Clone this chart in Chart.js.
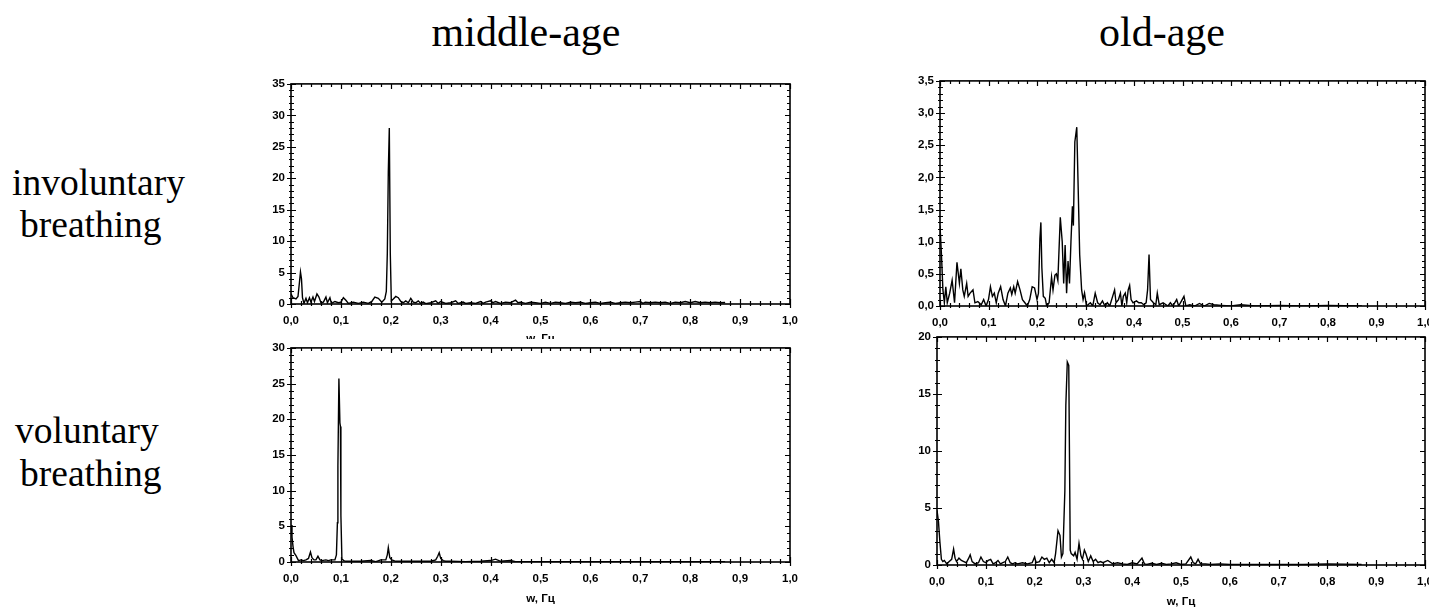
<!DOCTYPE html>
<html>
<head>
<meta charset="utf-8">
<script src="https://cdn.jsdelivr.net/npm/chart.js@4.4.1/dist/chart.umd.min.js"></script>
<style>
  html, body { margin: 0; padding: 0; background: #fff; }
  body { width: 1429px; height: 608px; overflow: hidden; position: relative; }
  .lbl { position: absolute; font-family: "Liberation Serif", "Times New Roman", serif; line-height: 1; color: #000; white-space: nowrap; }
  .head { font-size: 42px; transform: translateX(-50%); }
  .row { font-size: 37.5px; }
  .panel { position: absolute; }
  .panel canvas { display: block; }
</style>
</head>
<body>
<div class="lbl head" style="left:526px; top:11px;">middle-age</div>
<div class="lbl head" style="left:1162px; top:11px;">old-age</div>
<div class="lbl row" style="left:12px; top:164px;">involuntary</div>
<div class="lbl row" style="left:20px; top:206px;">breathing</div>
<div class="lbl row" style="left:15px; top:412px;">voluntary</div>
<div class="lbl row" style="left:20px; top:455px;">breathing</div>

<div class="panel" id="p-tl"><canvas id="c-tl"></canvas></div>
<div class="panel" id="p-tr"><canvas id="c-tr"></canvas></div>
<div class="panel" id="p-bl"><canvas id="c-bl"></canvas></div>
<div class="panel" id="p-br"><canvas id="c-br"></canvas></div>

<script>
// Frequency axis shared by all four spectra (Hz)
const freqTicks = [0, 0.1, 0.2, 0.3, 0.4, 0.5, 0.6, 0.7, 0.8, 0.9, 1.0];
const axisTitle = 'w, Гц';

// middle-age, involuntary breathing
const midInvFreq = [
  0.000, 0.004, 0.010, 0.014, 0.017, 0.019, 0.021, 0.023, 0.026, 0.030,
  0.033, 0.037, 0.040, 0.044, 0.047, 0.052, 0.056, 0.060, 0.065, 0.070,
  0.073, 0.078, 0.081, 0.088, 0.095, 0.100, 0.105, 0.110, 0.115, 0.125,
  0.135, 0.145, 0.155, 0.162, 0.168, 0.175, 0.182, 0.188, 0.191, 0.193,
  0.195, 0.197, 0.199, 0.201, 0.205, 0.210, 0.215, 0.220, 0.225, 0.230,
  0.235, 0.240, 0.245, 0.250, 0.255, 0.260, 0.265, 0.270, 0.280, 0.290,
  0.295, 0.300, 0.310, 0.320, 0.330, 0.335, 0.345, 0.350, 0.360, 0.370,
  0.380, 0.385, 0.390, 0.400, 0.405, 0.410, 0.420, 0.430, 0.440, 0.450,
  0.455, 0.460, 0.470, 0.480, 0.490, 0.500, 0.510, 0.520, 0.530, 0.540,
  0.550, 0.560, 0.570, 0.580, 0.590, 0.600, 0.610, 0.620, 0.630, 0.640,
  0.650, 0.660, 0.670, 0.680, 0.690, 0.700, 0.705, 0.710, 0.720, 0.730,
  0.740, 0.750, 0.760, 0.770, 0.780, 0.790, 0.800, 0.810, 0.820, 0.830,
  0.840, 0.850, 0.860, 0.870
];
const midInvPower = [
  1.6, 1.0, 0.8, 1.2, 3.5, 5.1, 4.0, 1.0, 0.1, 0.9,
  0.2, 1.0, 0.3, 1.1, 0.4, 1.6, 1.1, 0.2, 0.3, 1.1,
  0.2, 1.0, 0.1, 0.4, 0.2, 0.3, 1.0, 0.6, 0.1, 0.3,
  0.1, 0.3, 0.1, 0.4, 1.1, 0.9, 0.3, 0.8, 2.0, 8.0,
  21.0, 28.0, 8.0, 0.5, 0.8, 1.2, 1.0, 0.4, 0.2, 0.5,
  0.2, 0.9, 0.3, 0.2, 0.5, 0.1, 0.3, 0.05, 0.2, 0.5,
  0.1, 0.4, 0.1, 0.2, 0.5, 0.1, 0.3, 0.1, 0.2, 0.1,
  0.4, 0.1, 0.3, 0.5, 0.2, 0.4, 0.1, 0.3, 0.2, 0.6,
  0.2, 0.3, 0.1, 0.3, 0.2, 0.1, 0.3, 0.1, 0.3, 0.2,
  0.1, 0.3, 0.2, 0.3, 0.1, 0.2, 0.3, 0.1, 0.2, 0.3,
  0.1, 0.2, 0.3, 0.2, 0.3, 0.4, 0.1, 0.3, 0.2, 0.3,
  0.2, 0.3, 0.1, 0.3, 0.2, 0.4, 0.2, 0.4, 0.2, 0.3,
  0.2, 0.3, 0.2, 0.25
];

// old-age, involuntary breathing
const oldInvFreq = [
  0.000, 0.003, 0.006, 0.009, 0.012, 0.015, 0.020, 0.025, 0.030, 0.035,
  0.040, 0.043, 0.047, 0.050, 0.055, 0.058, 0.062, 0.068, 0.072, 0.078,
  0.085, 0.090, 0.095, 0.100, 0.104, 0.108, 0.112, 0.116, 0.120, 0.125,
  0.130, 0.135, 0.140, 0.145, 0.148, 0.152, 0.155, 0.160, 0.165, 0.170,
  0.175, 0.180, 0.185, 0.190, 0.195, 0.200, 0.203, 0.206, 0.208, 0.210,
  0.213, 0.217, 0.220, 0.225, 0.230, 0.233, 0.237, 0.240, 0.243, 0.248,
  0.252, 0.255, 0.258, 0.261, 0.264, 0.267, 0.270, 0.273, 0.275, 0.278,
  0.282, 0.285, 0.288, 0.292, 0.295, 0.298, 0.302, 0.310, 0.315, 0.320,
  0.325, 0.330, 0.335, 0.340, 0.345, 0.350, 0.360, 0.363, 0.368, 0.372,
  0.375, 0.378, 0.382, 0.385, 0.388, 0.391, 0.394, 0.398, 0.405, 0.410,
  0.415, 0.420, 0.425, 0.428, 0.431, 0.434, 0.440, 0.445, 0.448, 0.452,
  0.460, 0.470, 0.475, 0.480, 0.488, 0.492, 0.498, 0.503, 0.507, 0.515,
  0.525, 0.535, 0.545, 0.555, 0.565, 0.580, 0.600, 0.620, 0.650, 0.700,
  0.750, 0.800, 0.870
];
const oldInvPower = [
  1.25, 0.80, 0.25, 0.05, 0.30, 0.05, 0.20, 0.40, 0.05, 0.68,
  0.35, 0.58, 0.25, 0.15, 0.35, 0.15, 0.20, 0.25, 0.05, 0.07,
  0.02, 0.10, 0.00, 0.10, 0.30, 0.15, 0.20, 0.05, 0.20, 0.30,
  0.10, 0.00, 0.20, 0.28, 0.18, 0.30, 0.20, 0.38, 0.25, 0.10,
  0.05, 0.00, 0.10, 0.30, 0.28, 0.10, 0.20, 1.05, 1.30, 0.60,
  0.15, 0.12, 0.00, 0.05, 0.45, 0.25, 0.48, 0.50, 0.40, 1.38,
  1.00, 0.35, 0.95, 0.20, 0.70, 0.35, 1.00, 1.55, 1.25, 2.55,
  2.78, 1.80, 0.80, 0.25, 0.10, 0.20, 0.00, 0.05, 0.00, 0.20,
  0.05, 0.02, 0.08, 0.00, 0.05, 0.00, 0.25, 0.05, 0.10, 0.20,
  0.00, 0.15, 0.20, 0.05, 0.25, 0.32, 0.10, 0.05, 0.08, 0.05,
  0.05, 0.02, 0.05, 0.25, 0.80, 0.10, 0.05, 0.02, 0.20, 0.02,
  0.05, 0.00, 0.05, 0.00, 0.10, 0.00, 0.08, 0.15, 0.00, 0.02,
  0.00, 0.04, 0.00, 0.04, 0.02, 0.01, 0.00, 0.02, 0.00, 0.01,
  0.00, 0.01, 0.00
];

// middle-age, voluntary breathing
const midVolFreq = [
  0.000, 0.002, 0.004, 0.006, 0.010, 0.015, 0.020, 0.025, 0.030, 0.035,
  0.039, 0.042, 0.046, 0.050, 0.054, 0.058, 0.062, 0.070, 0.075, 0.080,
  0.088, 0.091, 0.093, 0.094, 0.096, 0.098, 0.099, 0.100, 0.102, 0.106,
  0.110, 0.120, 0.140, 0.160, 0.170, 0.180, 0.190, 0.193, 0.195, 0.198,
  0.202, 0.210, 0.240, 0.260, 0.280, 0.290, 0.294, 0.297, 0.300, 0.305,
  0.310, 0.320, 0.350, 0.380, 0.400, 0.410, 0.420, 0.440, 0.450, 0.500,
  0.600, 0.700, 0.800, 0.870
];
const midVolPower = [
  5.2, 3.5, 2.2, 1.3, 0.9, 0.2, 0.3, 0.2, 0.3, 0.5,
  1.4, 0.6, 0.3, 0.3, 0.8, 0.3, 0.2, 0.3, 0.2, 0.3,
  0.3, 1.0, 5.5, 13.5, 25.7, 19.5, 19.0, 6.5, 0.4, 0.2,
  0.1, 0.1, 0.1, 0.2, 0.05, 0.3, 0.3, 1.0, 2.0, 0.6,
  0.3, 0.1, 0.1, 0.1, 0.1, 0.3, 0.8, 1.3, 0.5, 0.2,
  0.1, 0.1, 0.05, 0.1, 0.2, 0.4, 0.1, 0.2, 0.05, 0.05,
  0.05, 0.05, 0.05, 0.05
];

// old-age, voluntary breathing
const oldVolFreq = [
  0.000, 0.003, 0.006, 0.009, 0.012, 0.015, 0.020, 0.025, 0.030, 0.034,
  0.037, 0.040, 0.045, 0.050, 0.055, 0.060, 0.065, 0.068, 0.072, 0.078,
  0.085, 0.090, 0.095, 0.100, 0.105, 0.110, 0.115, 0.120, 0.125, 0.130,
  0.135, 0.140, 0.145, 0.150, 0.155, 0.160, 0.165, 0.175, 0.185, 0.195,
  0.200, 0.203, 0.210, 0.215, 0.220, 0.225, 0.230, 0.235, 0.240, 0.243,
  0.248, 0.252, 0.255, 0.258, 0.262, 0.264, 0.267, 0.270, 0.273, 0.275,
  0.280, 0.283, 0.287, 0.291, 0.295, 0.298, 0.302, 0.305, 0.310, 0.315,
  0.320, 0.325, 0.330, 0.335, 0.340, 0.350, 0.360, 0.370, 0.380, 0.390,
  0.400, 0.410, 0.420, 0.425, 0.430, 0.440, 0.450, 0.460, 0.470, 0.480,
  0.490, 0.500, 0.510, 0.520, 0.525, 0.530, 0.535, 0.540, 0.550, 0.560,
  0.580, 0.600, 0.650, 0.700, 0.750, 0.800, 0.870
];
const oldVolPower = [
  4.8, 3.8, 2.0, 0.5, 0.3, 0.4, 0.1, 0.3, 0.5, 1.4,
  0.6, 0.3, 0.6, 0.4, 0.3, 0.2, 0.6, 0.9, 0.3, 0.1,
  0.2, 0.7, 0.3, 0.2, 0.4, 0.5, 0.1, 0.2, 0.4, 0.1,
  0.2, 0.3, 0.7, 0.2, 0.1, 0.2, 0.1, 0.2, 0.1, 0.2,
  0.7, 0.2, 0.3, 0.7, 0.5, 0.6, 0.2, 0.5, 0.2, 1.0,
  3.0, 2.6, 0.7, 1.0, 6.5, 14.0, 17.8, 17.5, 1.3, 1.0,
  0.8, 1.1, 0.5, 1.9, 0.8, 0.5, 1.3, 1.0, 0.3, 0.8,
  0.3, 0.5, 0.2, 0.3, 0.2, 0.4, 0.1, 0.2, 0.1, 0.05,
  0.2, 0.1, 0.6, 0.1, 0.05, 0.15, 0.05, 0.15, 0.05, 0.1,
  0.2, 0.05, 0.1, 0.7, 0.2, 0.1, 0.5, 0.1, 0.1, 0.05,
  0.1, 0.05, 0.05, 0.05, 0.05, 0.1, 0.05
];

// Power axis ranges
const midInvRange = [0, 35];
const oldInvRange = [0, 3.5];
const midVolRange = [0, 30];
const oldVolRange = [0, 20];

const fmtComma = (digits) => (v) => Number(v).toFixed(digits).replace('.', ',');

// Box frame with inward/crossing tick marks, placed through the chart's scales
const frameTicks = {
  id: 'frameTicks',
  afterDraw(chart, args, o) {
    const { ctx, chartArea: a, scales: { x, y } } = chart;
    ctx.save();
    ctx.strokeStyle = '#000';
    ctx.lineCap = 'butt';
    ctx.lineWidth = 1.2;
    ctx.beginPath();
    const nx = Math.round((x.max - x.min) / o.xMinor);
    for (let i = 0; i <= nx; i++) {
      const px = Math.round(x.getPixelForValue(x.min + i * o.xMinor)) + 0.5;
      const major = i % o.xEvery === 0;
      const out = major ? 4 : 2, inn = major ? 5 : 3;
      ctx.moveTo(px, a.bottom - inn); ctx.lineTo(px, a.bottom + out);
      ctx.moveTo(px, a.top); ctx.lineTo(px, a.top + inn);
    }
    const ny = Math.round((y.max - y.min) / o.yMinor);
    for (let j = 0; j <= ny; j++) {
      const py = Math.round(y.getPixelForValue(y.min + j * o.yMinor)) + 0.5;
      const major = j % o.yEvery === 0;
      const out = major ? 4 : 2, inn = major ? 5 : 3;
      ctx.moveTo(a.left - out, py); ctx.lineTo(a.left + inn, py);
      ctx.moveTo(a.right, py); ctx.lineTo(a.right - inn, py);
    }
    ctx.stroke();
    ctx.lineWidth = 1.6;
    ctx.strokeRect(a.left, a.top, a.right - a.left, a.bottom - a.top);
    ctx.restore();
  }
};

const tickFont = { family: '"Liberation Sans", Arial, sans-serif', size: 11.5, weight: 'bold' };

function drawPanel(id, freq, power, range, yStep, yDigits, yMinor, box, clip, titleY) {
  const padT = 8, padR = 16, yW = 44, xH = 44;
  const w = box.right - box.left + yW + padR;
  const h = box.bottom - box.top + padT + xH;
  const holder = document.getElementById('p-' + id);
  holder.style.left = (box.left - yW) + 'px';
  holder.style.top = (box.top - padT) + 'px';
  holder.style.width = w + 'px';
  holder.style.height = h + 'px';
  holder.style.clipPath = 'inset(' + clip.top + 'px 0px ' + clip.bottom + 'px 0px)';
  const canvas = document.getElementById('c-' + id);
  canvas.width = w; canvas.height = h;
  canvas.style.width = w + 'px'; canvas.style.height = h + 'px';

  const showTitle = titleY !== null;
  const lineH = 13.8;
  const titlePadBottom = showTitle ? Math.max(0, (box.bottom + xH) - lineH / 2 - titleY) : 0;

  new Chart(canvas, {
    type: 'line',
    data: {
      datasets: [{
        data: freq.map((f, i) => ({ x: f, y: power[i] })),
        borderColor: '#000',
        borderWidth: 1.4,
        pointRadius: 0,
        tension: 0,
        fill: false
      }]
    },
    options: {
      responsive: false,
      devicePixelRatio: 1,
      animation: false,
      events: [],
      layout: { padding: { top: padT, right: padR, left: 0, bottom: 0 } },
      plugins: { legend: { display: false }, tooltip: { enabled: false }, frameTicks: { xMinor: 0.02, xEvery: 5, yMinor: yMinor, yEvery: Math.round(yStep / yMinor) } },
      scales: {
        x: {
          type: 'linear',
          min: freqTicks[0], max: freqTicks[freqTicks.length - 1],
          afterBuildTicks: (s) => { s.ticks = freqTicks.map(v => ({ value: v })); },
          afterFit: (s) => { s.height = xH; },
          grid: { display: false, drawTicks: false },
          border: { display: false },
          ticks: { color: '#000', font: tickFont, padding: 10, maxRotation: 0, autoSkip: false, callback: fmtComma(1) },
          title: { display: showTitle, text: axisTitle, color: '#000', font: tickFont, padding: { top: 0, bottom: titlePadBottom } }
        },
        y: {
          type: 'linear',
          min: range[0], max: range[1],
          afterFit: (s) => { s.width = yW; },
          grid: { display: false, drawTicks: false },
          border: { display: false },
          ticks: { color: '#000', font: tickFont, padding: 6, stepSize: yStep, callback: fmtComma(yDigits) }
        }
      }
    },
    plugins: [frameTicks]
  });
}

drawPanel('tl', midInvFreq, midInvPower, midInvRange, 5, 0, 1,
  { left: 291, right: 792, top: 79, bottom: 304 }, { top: 0, bottom: 9 }, 338.5);
drawPanel('tr', oldInvFreq, oldInvPower, oldInvRange, 0.5, 1, 0.1,
  { left: 940, right: 1427, top: 76, bottom: 306 }, { top: 5, bottom: 19 }, null);
drawPanel('bl', midVolFreq, midVolPower, midVolRange, 5, 0, 1,
  { left: 291, right: 792, top: 343, bottom: 562 }, { top: 0, bottom: 0 }, 600);
drawPanel('br', oldVolFreq, oldVolPower, oldVolRange, 5, 0, 1,
  { left: 937, right: 1427, top: 332, bottom: 565 }, { top: 6, bottom: 0 }, 602);
</script>
</body>
</html>
